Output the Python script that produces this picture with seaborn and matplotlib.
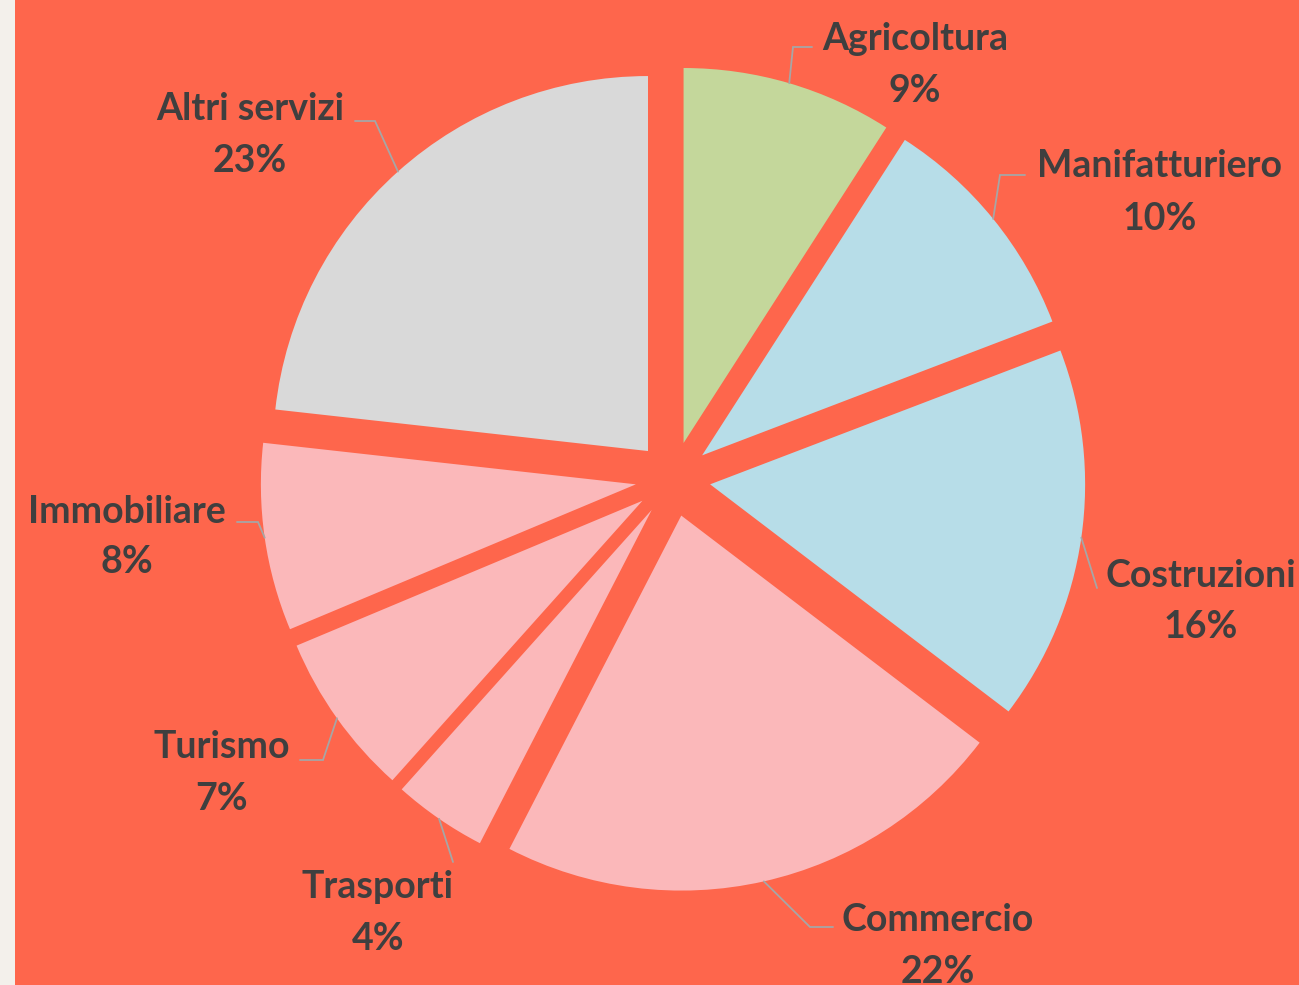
import numpy as np
import matplotlib
matplotlib.use('Agg')
import matplotlib.pyplot as plt
import seaborn as sns

settori = ['Agricoltura', 'Manifatturiero', 'Costruzioni', 'Commercio',
           'Trasporti', 'Turismo', 'Immobiliare', 'Altri servizi']
quote = [9, 10, 16, 22, 4, 7, 8, 23]
percentuali = ['9%', '10%', '16%', '22%', '4%', '7%', '8%', '23%']
colori = ['#C4D79B', '#B7DDE8', '#B7DDE8', '#FBB8BA',
          '#FBB8BA', '#FBB8BA', '#FBB8BA', '#D9D9D9']

W, H = 1299, 985
raggio = 375

# layout in pixel coords (y from the top): label centre x, name baseline y, pct baseline y
etichette_pos = [(915, 50, 102), (1160, 177, 230), (1201, 587, 638), (938, 931, 983),
                 (378, 898, 950), (222, 758, 810), (127, 523, 573), (250, 120, 172)]
# leader line points after the arc point
guide = [[(793, 47), (812, 47)],
         [(1000, 175), (1025, 175)],
         [(1097, 588)],
         [(810, 927), (833, 927)],
         [(453, 862)],
         [(323, 760), (300, 760)],
         [(258, 522), (237, 522)],
         [(375, 121), (355, 121)]]

sns.set_theme(style='white')
plt.rcParams['font.family'] = ['Lato', 'DejaVu Sans']

fig = plt.figure(figsize=(W / 100, H / 100), dpi=100, facecolor='#F3F0EB')
ax = fig.add_axes([15 / W, 0, 1 - 15 / W, 1])
ax.set_facecolor('#FE664C')

# explode is an absolute offset in data units here
wedges, _ = ax.pie(quote, colors=colori, startangle=90, counterclock=False,
                   radius=raggio, center=(673, H - 479),
                   explode=[0.1 * raggio] * len(quote),
                   wedgeprops=dict(linewidth=0), frame=True)

for w, (tx, ny, py), nome, pct, g in zip(wedges, etichette_pos, settori, percentuali, guide):
    th = np.deg2rad((w.theta1 + w.theta2) / 2)
    cx, cy = w.center
    punti = [(cx + w.r * np.cos(th), cy + w.r * np.sin(th))] + [(x, H - y) for x, y in g]
    xs, ys = zip(*punti)
    ax.plot(xs, ys, color='#A6A6A6', lw=1.3, solid_joinstyle='miter')
    ax.text(tx, H - ny, nome, ha='center', va='baseline', fontsize=27,
            fontweight='bold', color='#3F3F3F')
    ax.text(tx, H - py, pct, ha='center', va='baseline', fontsize=27,
            fontweight='bold', color='#3F3F3F')

ax.set_xlim(15, W)
ax.set_ylim(0, H)
ax.set_aspect('equal')
ax.set_xticks([])
ax.set_yticks([])
for s in ax.spines.values():
    s.set_visible(False)

fig.savefig('out.png', dpi=100, facecolor=fig.get_facecolor())
